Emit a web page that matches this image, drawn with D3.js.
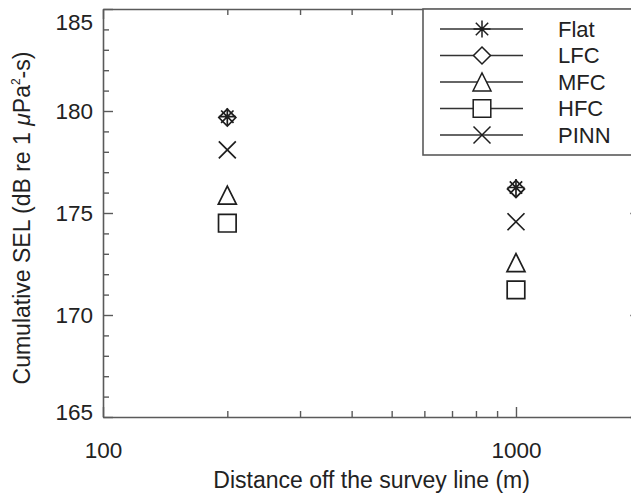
<!DOCTYPE html>
<html>
<head>
<meta charset="utf-8">
<script src="https://cdn.jsdelivr.net/npm/d3@7"></script>
<style>
  body { margin: 0; background: #fff; }
  svg { display: block; }
  .tk text { font-family: "Liberation Sans", Arial, Helvetica, sans-serif; font-size: 22.5px; fill: #222; }
</style>
</head>
<body>
<svg id="chart"></svg>
<script>
// ---------------- data ----------------
var distances = [200, 1000];
var seriesNames = ['Flat', 'LFC', 'MFC', 'HFC', 'PINN'];
var flatSEL = [179.72, 176.25];
var lfcSEL = [179.68, 176.18];
var mfcSEL = [175.88, 172.57];
var hfcSEL = [174.5, 171.23];
var pinnSEL = [178.09, 174.57];
var yMajorTicks = [165, 170, 175, 180, 185];
var xMajorTicks = [100, 1000];

var seriesValues = [flatSEL, lfcSEL, mfcSEL, hfcSEL, pinnSEL];
var symbols = ['asterisk', 'diamond', 'triangle', 'square', 'cross'];

// ---------------- layout ----------------
var width = 631, height = 499;
var plotL = 103, plotR = 640.3, plotT = 9, plotB = 417;
var axisColor = '#5a5a5a';
var ink = '#1e1e1e';
var font = '"Liberation Sans", Arial, Helvetica, sans-serif';

var svg = d3.select('#chart')
  .attr('width', width)
  .attr('height', height);

var x = d3.scaleLog().domain([100, 2000]).range([plotL, plotR]);
var y = d3.scaleLinear().domain([165, 185]).range([plotB, plotT]);

var xMinor = d3.range(200, 1000, 100);
var yMinor = d3.range(165, 186, 1).filter(d => d % 5 !== 0);

function styleAxis(g) {
  g.selectAll('path.domain').attr('stroke', axisColor).attr('stroke-width', 1.6);
  g.selectAll('.tick line').attr('stroke', axisColor).attr('stroke-width', 1.4);
  g.attr('font-family', null).attr('font-size', null);
}

// minor ticks
svg.append('g').attr('transform', `translate(${plotL},0)`)
  .call(d3.axisLeft(y).tickValues(yMinor).tickSize(-6).tickFormat(''))
  .call(styleAxis).call(g => g.select('.domain').remove());
svg.append('g').attr('transform', `translate(${plotR},0)`)
  .call(d3.axisRight(y).tickValues(yMinor).tickSize(-6).tickFormat(''))
  .call(styleAxis).call(g => g.select('.domain').remove());
svg.append('g').attr('transform', `translate(0,${plotB})`)
  .call(d3.axisBottom(x).tickValues(xMinor).tickSize(-6).tickFormat(''))
  .call(styleAxis).call(g => g.select('.domain').remove());
svg.append('g').attr('transform', `translate(0,${plotT})`)
  .call(d3.axisTop(x).tickValues(xMinor).tickSize(-6).tickFormat(''))
  .call(styleAxis).call(g => g.select('.domain').remove());

// major ticks + labels
var yLeft = svg.append('g').attr('class', 'tk').attr('transform', `translate(${plotL},0)`)
  .call(d3.axisLeft(y).tickValues(yMajorTicks).tickSize(-10).tickSizeOuter(0).tickPadding(10).tickFormat(d3.format('d')))
  .call(styleAxis);
// IDL keeps the end labels inside the axis range
yLeft.selectAll('.tick text').filter(d => d === 185).attr('y', 13);
yLeft.selectAll('.tick text').filter(d => d === 165).attr('y', -5);

svg.append('g').attr('transform', `translate(${plotR},0)`)
  .call(d3.axisRight(y).tickValues(yMajorTicks).tickSize(-10).tickSizeOuter(0).tickFormat(''))
  .call(styleAxis);

svg.append('g').attr('class', 'tk').attr('transform', `translate(0,${plotB})`)
  .call(d3.axisBottom(x).tickValues(xMajorTicks).tickSize(-10).tickSizeOuter(0).tickPadding(25).tickFormat(d3.format('d')))
  .call(styleAxis);

svg.append('g').attr('transform', `translate(0,${plotT})`)
  .call(d3.axisTop(x).tickValues(xMajorTicks).tickSize(-10).tickSizeOuter(0).tickFormat(''))
  .call(styleAxis);

// ---------------- symbols ----------------
function symbolPath(type) {
  var p = d3.path();
  if (type === 'asterisk') {
    var a = 8.5, b = 6.2;
    p.moveTo(-a, 0); p.lineTo(a, 0);
    p.moveTo(0, -a); p.lineTo(0, a);
    p.moveTo(-b, -b); p.lineTo(b, b);
    p.moveTo(-b, b); p.lineTo(b, -b);
  } else if (type === 'diamond') {
    var r = 8.5;
    p.moveTo(0, -r); p.lineTo(r, 0); p.lineTo(0, r); p.lineTo(-r, 0); p.closePath();
  } else if (type === 'triangle') {
    var h = 9;
    p.moveTo(-h, h); p.lineTo(h, h); p.lineTo(0, -h); p.closePath();
  } else if (type === 'square') {
    var s = 8.8;
    p.rect(-s, -s, 2 * s, 2 * s);
  } else if (type === 'cross') {
    var c = 8.5;
    p.moveTo(-c, -c); p.lineTo(c, c);
    p.moveTo(-c, c); p.lineTo(c, -c);
  }
  return p.toString();
}

// ---------------- points ----------------
var points = [];
seriesValues.forEach(function (vals, si) {
  vals.forEach(function (v, di) {
    points.push({ series: seriesNames[si], symbol: symbols[si], dist: distances[di], sel: v });
  });
});

svg.append('g').selectAll('path')
  .data(points)
  .enter()
  .append('path')
    .attr('transform', d => `translate(${x(d.dist)},${y(d.sel)})`)
    .attr('d', d => symbolPath(d.symbol))
    .attr('fill', 'none')
    .attr('stroke', ink)
    .attr('stroke-width', 1.7);

// ---------------- legend ----------------
var legend = svg.append('g');
legend.append('rect')
  .attr('x', 423).attr('y', plotT)
  .attr('width', plotR - 423).attr('height', 155 - plotT)
  .attr('fill', '#fff')
  .attr('stroke', axisColor)
  .attr('stroke-width', 1.6);

var rowY = d3.scalePoint().domain(seriesNames).range([29, 135]);

var rows = legend.selectAll('g.row')
  .data(seriesNames)
  .enter()
  .append('g')
    .attr('class', 'row')
    .attr('transform', d => `translate(0,${rowY(d)})`);

rows.append('line')
  .attr('x1', 440).attr('x2', 523)
  .attr('stroke', '#333')
  .attr('stroke-width', 1.5);

rows.append('path')
  .attr('transform', 'translate(482,0)')
  .attr('d', (d, i) => symbolPath(symbols[i]))
  .attr('fill', '#fff')
  .attr('stroke', ink)
  .attr('stroke-width', 1.5);

rows.append('text')
  .attr('x', 558)
  .attr('dy', '0.36em')
  .attr('font-family', font)
  .attr('font-size', 22)
  .attr('fill', '#222')
  .text(d => d);

// ---------------- axis titles ----------------
svg.append('text')
  .text('Distance off the survey line (m)')
  .attr('x', (plotL + plotR) / 2)
  .attr('y', 488)
  .attr('text-anchor', 'middle')
  .attr('font-family', font)
  .attr('font-size', 23)
  .attr('fill', '#222');

var yTitle = svg.append('text')
  .attr('transform', 'translate(30,218) rotate(-90)')
  .attr('text-anchor', 'middle')
  .attr('font-family', font)
  .attr('font-size', 23)
  .attr('fill', '#222');
yTitle.append('tspan').text('Cumulative SEL (dB re 1 ');
yTitle.append('tspan').attr('font-style', 'italic').text('\u03bc');
yTitle.append('tspan').text('Pa');
yTitle.append('tspan').attr('font-size', 12).attr('dy', -10).text('2');
yTitle.append('tspan').attr('dy', 10).text('-s)');
</script>
</body>
</html>
